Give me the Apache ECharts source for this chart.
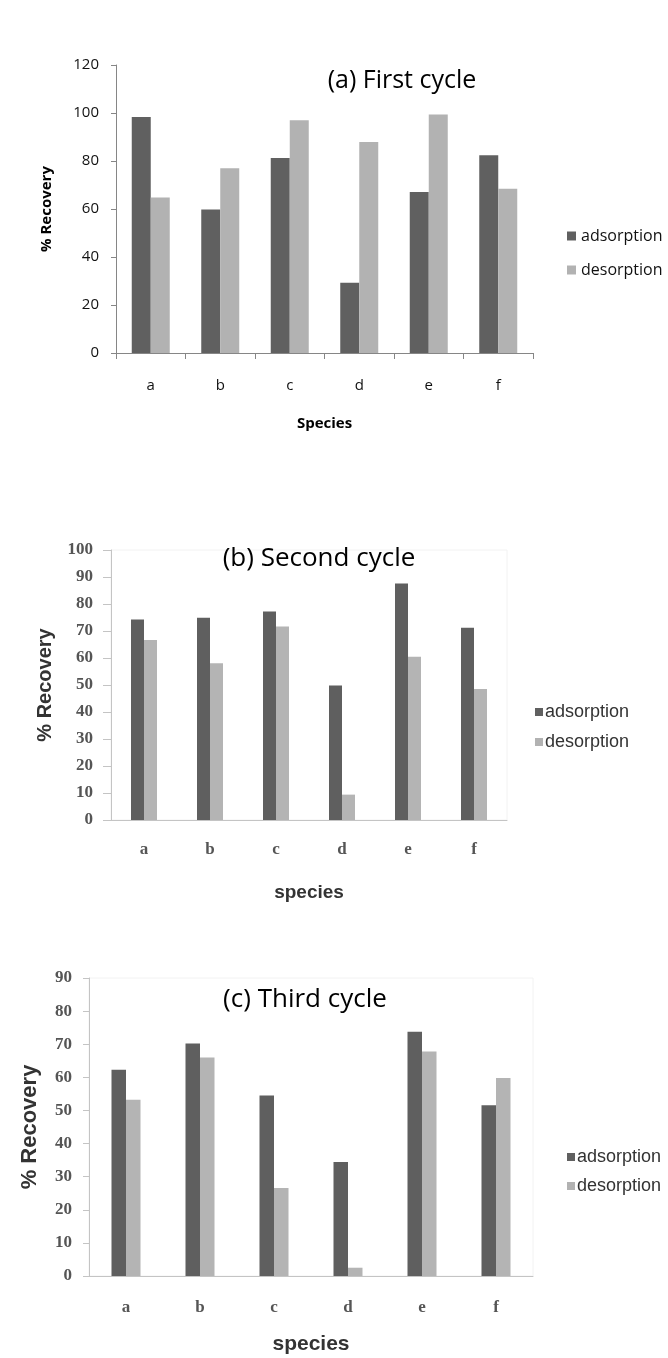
<!DOCTYPE html>
<html>
<head>
<meta charset="utf-8">
<script src="https://cdn.jsdelivr.net/npm/echarts@6/dist/echarts.min.js"></script>
<style>
  html, body { margin: 0; padding: 0; background: #fff; }
  #main { width: 668px; height: 1358px; }
</style>
</head>
<body>
<div id="main"></div>
<script>
var categories = ['a', 'b', 'c', 'd', 'e', 'f'];

// (a) First cycle
var adsorption1 = [98.3, 59.8, 81.2, 29.3, 67.1, 82.4];
var desorption1 = [64.8, 77.0, 97.0, 87.9, 99.4, 68.4];
// (b) Second cycle
var adsorption2 = [74.3, 74.9, 77.2, 49.8, 87.6, 71.2];
var desorption2 = [66.7, 58.1, 71.7, 9.4, 60.5, 48.5];
// (c) Third cycle
var adsorption3 = [62.3, 70.2, 54.5, 34.4, 73.8, 51.6];
var desorption3 = [53.2, 66.0, 26.6, 2.5, 67.8, 59.8];

// y axis ticks: [min, max, step]
var yTicks1 = [0, 120, 20];
var yTicks2 = [0, 100, 10];
var yTicks3 = [0, 90, 10];

var titles = ['(a) First cycle', '(b) Second cycle', '(c) Third cycle'];
var seriesNames = ['adsorption', 'desorption'];

var myChart = echarts.init(document.getElementById('main'));

var calibri = '"Open Sans", sans-serif';
var arial = '"Liberation Sans", Arial, sans-serif';
var serif = '"Liberation Serif", "Times New Roman", serif';

function xAxisCfg (idx, o) {
  return {
    type: 'category',
    gridIndex: idx,
    data: categories,
    name: o.name,
    nameLocation: 'middle',
    nameGap: o.nameGap,
    nameTextStyle: o.nameStyle,
    axisLine: { lineStyle: { color: o.lineColor, width: 1 } },
    axisTick: { show: o.ticks, length: 6, lineStyle: { color: o.lineColor } },
    axisLabel: Object.assign({ margin: o.labelMargin }, o.labelStyle)
  };
}

function yAxisCfg (idx, ticks, o) {
  return {
    type: 'value',
    gridIndex: idx,
    min: ticks[0],
    max: ticks[1],
    interval: ticks[2],
    name: '% Recovery',
    nameLocation: 'middle',
    nameGap: o.nameGap,
    nameTextStyle: o.nameStyle,
    axisLine: { show: true, lineStyle: { color: o.lineColor, width: 1 } },
    axisTick: { show: true, length: o.tickLen, lineStyle: { color: o.lineColor } },
    splitLine: { show: false },
    axisLabel: Object.assign({ margin: o.labelMargin }, o.labelStyle)
  };
}

function barPair (idx, ads, des, width, colors) {
  return [{
    type: 'bar', name: seriesNames[0], xAxisIndex: idx, yAxisIndex: idx,
    data: ads, barWidth: width, barGap: '0%',
    itemStyle: { color: colors[0] }
  }, {
    type: 'bar', name: seriesNames[1], xAxisIndex: idx, yAxisIndex: idx,
    data: des, barWidth: width, barGap: '0%',
    itemStyle: { color: colors[1] }
  }];
}

var labelA = { fontFamily: calibri, fontSize: 15, color: '#111' };
var nameA = { fontFamily: calibri, fontSize: 15, fontWeight: 'bold', color: '#000' };
var lineA = '#868686';
var labelB = { fontFamily: serif, fontSize: 17, fontWeight: 'bold', color: '#555' };
var lineB = '#c4c4c4';

var option = {
  backgroundColor: '#fff',
  animation: false,
  grid: [
    { left: 116, top: 65, width: 417, height: 288 },
    { left: 111, top: 550, width: 396, height: 270, show: true, borderColor: '#f2f2f2', borderWidth: 1 },
    { left: 89, top: 978, width: 444, height: 298, show: true, borderColor: '#f2f2f2', borderWidth: 1 }
  ],
  xAxis: [
    xAxisCfg(0, { name: 'Species', nameGap: 63, nameStyle: nameA, lineColor: lineA, ticks: true, labelMargin: 25, labelStyle: labelA }),
    xAxisCfg(1, { name: 'species', nameGap: 63, lineColor: lineB, ticks: false, labelMargin: 21, labelStyle: labelB,
      nameStyle: { fontFamily: arial, fontSize: 19, fontWeight: 'bold', color: '#333' } }),
    xAxisCfg(2, { name: 'species', nameGap: 58, lineColor: lineB, ticks: false, labelMargin: 23, labelStyle: labelB,
      nameStyle: { fontFamily: arial, fontSize: 21, fontWeight: 'bold', color: '#333' } })
  ],
  yAxis: [
    yAxisCfg(0, yTicks1, { nameGap: 62, nameStyle: nameA, lineColor: lineA, tickLen: 5, labelMargin: 17, labelStyle: labelA }),
    yAxisCfg(1, yTicks2, { nameGap: 56, lineColor: lineB, tickLen: 8, labelMargin: 18, labelStyle: labelB,
      nameStyle: { fontFamily: arial, fontSize: 20, fontWeight: 'bold', color: '#333' } }),
    yAxisCfg(2, yTicks3, { nameGap: 48, lineColor: lineB, tickLen: 6, labelMargin: 17, labelStyle: labelB,
      nameStyle: { fontFamily: arial, fontSize: 22, fontWeight: 'bold', color: '#333' } })
  ],
  legend: [
    { orient: 'vertical', left: 562, top: 223, itemWidth: 9, itemHeight: 9, itemGap: 18, icon: 'rect',
      data: seriesNames, textStyle: { fontFamily: calibri, fontSize: 16, color: '#111' } },
    { orient: 'vertical', left: 530, top: 698, itemWidth: 8, itemHeight: 8, itemGap: 12, icon: 'rect',
      data: seriesNames, textStyle: { fontFamily: arial, fontSize: 18, color: '#333', padding: [0, 0, 0, -3] } },
    { orient: 'vertical', left: 562, top: 1143, itemWidth: 8, itemHeight: 8, itemGap: 11, icon: 'rect',
      data: seriesNames, textStyle: { fontFamily: arial, fontSize: 18, color: '#333', padding: [0, 0, 0, -3] } }
  ],
  graphic: [
    { type: 'text', x: 402, y: 81, style: { text: titles[0], fontFamily: calibri, fontSize: 25, fill: '#000', align: 'center', verticalAlign: 'middle' } },
    { type: 'text', x: 319, y: 559, style: { text: titles[1], fontFamily: calibri, fontSize: 26, fill: '#000', align: 'center', verticalAlign: 'middle' } },
    { type: 'text', x: 305, y: 1000, style: { text: titles[2], fontFamily: calibri, fontSize: 26, fill: '#000', align: 'center', verticalAlign: 'middle' } }
  ],
  series: [].concat(
    barPair(0, adsorption1, desorption1, 19, ['#606060', '#b2b2b2']),
    barPair(1, adsorption2, desorption2, 13, ['#5f5f5f', '#b4b4b4']),
    barPair(2, adsorption3, desorption3, 14.5, ['#5f5f5f', '#b4b4b4'])
  )
};

myChart.setOption(option);
</script>
</body>
</html>
